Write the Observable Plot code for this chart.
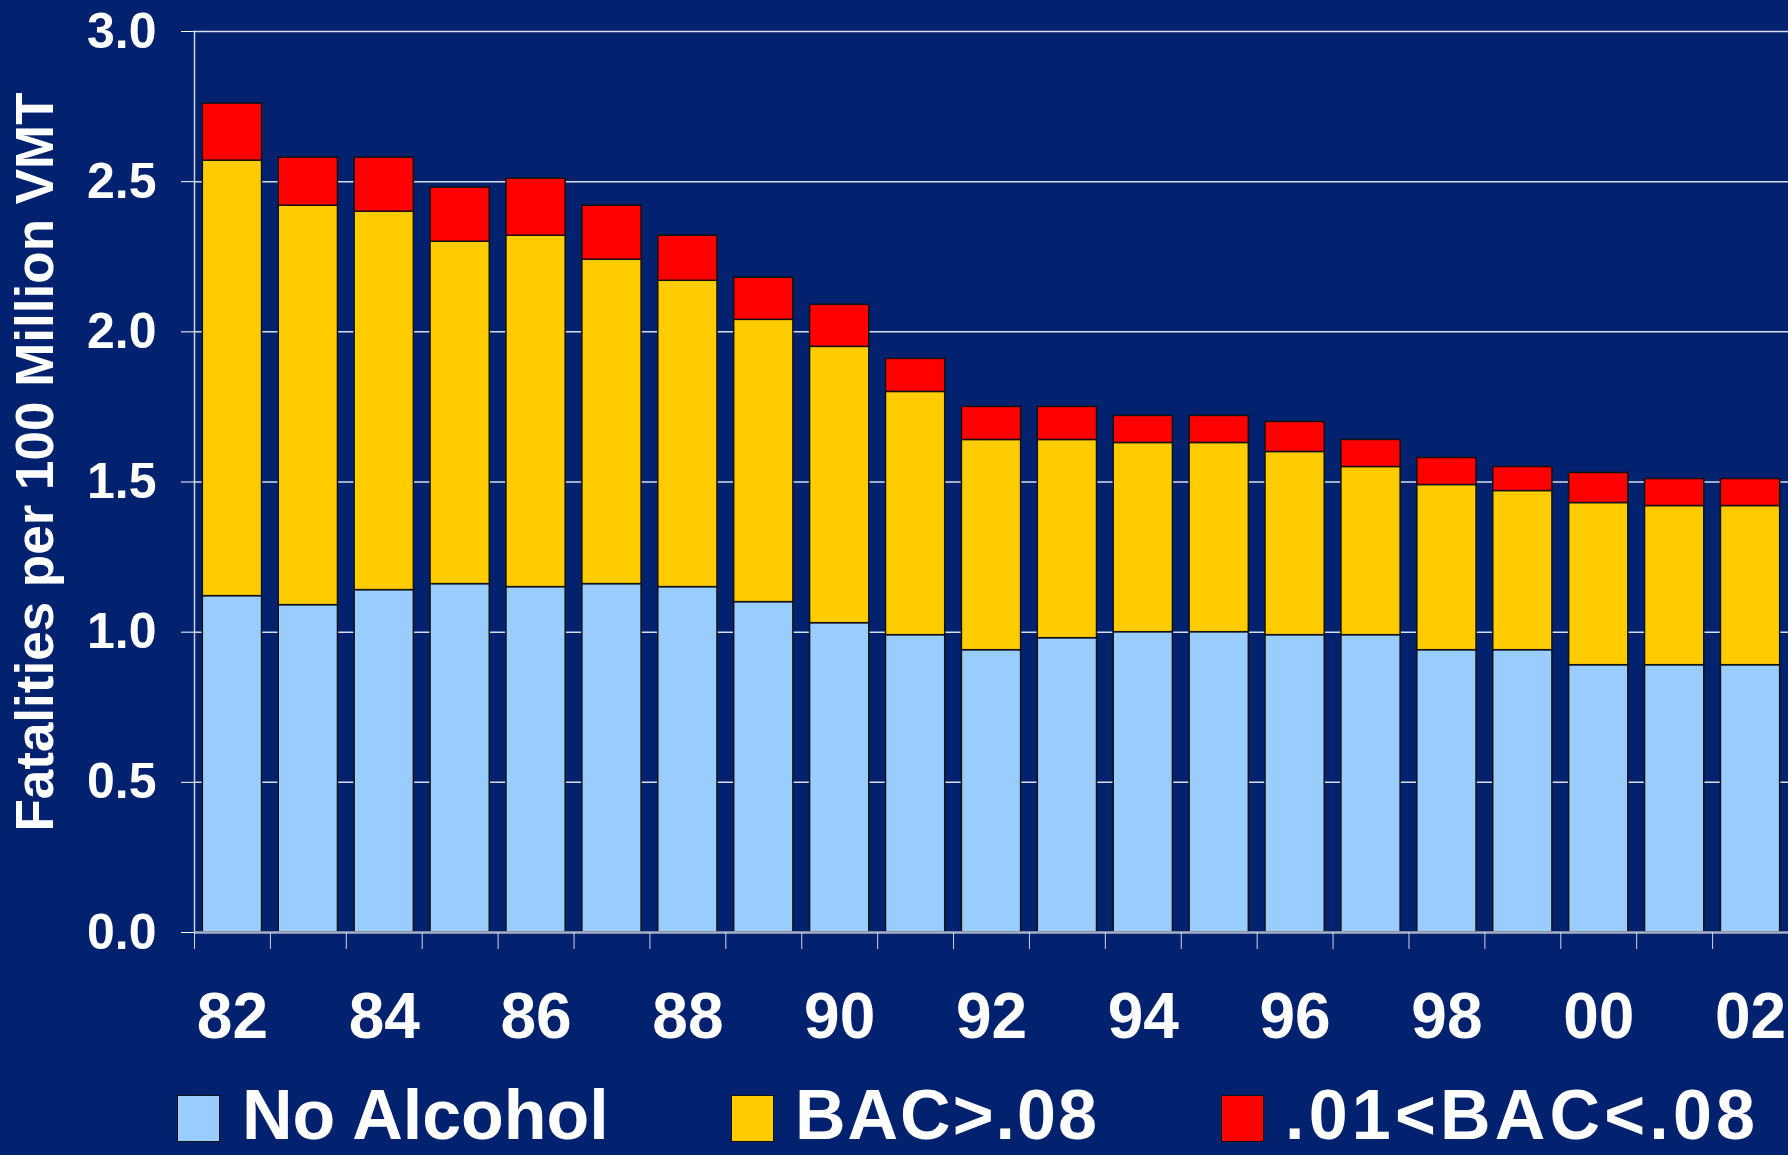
<!DOCTYPE html>
<html><head><meta charset="utf-8">
<script src="https://cdn.jsdelivr.net/npm/d3@7"></script>
<script src="https://cdn.jsdelivr.net/npm/@observablehq/plot@0.6"></script>
<style>
html,body{margin:0;padding:0;background:#02226F;}
#wrap{position:relative;width:1788px;height:1155px;overflow:hidden;background:#02226F;font-family:"Liberation Sans",Arial,sans-serif;}
#chart{position:absolute;left:0;top:0;}
#legend{position:absolute;left:0;top:1060px;width:1788px;height:95px;}
.sw{position:absolute;top:35px;width:43px;height:47px;box-sizing:border-box;border:1.5px solid #111;}
.lt{position:absolute;top:23px;font-size:70px;font-weight:bold;color:white;line-height:64px;white-space:nowrap;}
</style></head>
<body><div id="wrap"><div id="chart"></div><div id="legend"></div></div>
<script>
const years = ["82","83","84","85","86","87","88","89","90","91","92","93","94","95","96","97","98","99","00","01","02"];
const labelYears = ["82","84","86","88","90","92","94","96","98","00","02"];
const seriesNames = ["No Alcohol","BAC>.08",".01<BAC<.08"];
const seriesColors = ["#99CCFF","#FFCC00","#FF0000"];
const noAlcohol = [1.12,1.09,1.14,1.16,1.15,1.16,1.15,1.10,1.03,0.99,0.94,0.98,1.00,1.00,0.99,0.99,0.94,0.94,0.89,0.89,0.89];
const bacHigh   = [1.45,1.33,1.26,1.14,1.17,1.08,1.02,0.94,0.92,0.81,0.70,0.66,0.63,0.63,0.61,0.56,0.55,0.53,0.54,0.53,0.53];
const bacLow    = [0.19,0.16,0.18,0.18,0.19,0.18,0.15,0.14,0.14,0.11,0.11,0.11,0.09,0.09,0.10,0.09,0.09,0.08,0.10,0.09,0.09];
const yTicks = [0,0.5,1.0,1.5,2.0,2.5,3.0];
const yTitle = "Fatalities per 100 Million VMT";

const W = 1788, H = 1060, mL = 194, mR = 0, mT = 31, mB = 128;
const step = (W - mL - mR) / years.length;
const font = "'Liberation Sans', Arial, sans-serif";

const table = years.flatMap((yr, i) => [
  {year: yr, series: seriesNames[0], value: noAlcohol[i]},
  {year: yr, series: seriesNames[1], value: bacHigh[i]},
  {year: yr, series: seriesNames[2], value: bacLow[i]}
]);

const chart = Plot.plot({
  width: W, height: H,
  marginLeft: mL, marginRight: mR, marginTop: mT, marginBottom: mB,
  style: {background: "transparent", color: "white", fontFamily: font},
  x: {domain: years, paddingInner: 0.22, paddingOuter: 0.11, round: false, label: null},
  y: {domain: [0, 3], label: null},
  color: {domain: seriesNames, range: seriesColors},
  marks: [
    Plot.gridY(yTicks.slice(1), {stroke: "white", strokeOpacity: 0.85, strokeWidth: 1.5}),
    Plot.frame({anchor: "left", stroke: "#c9cfe0", strokeWidth: 1.5}),
    Plot.barY(table, Plot.stackY({order: seriesNames}, {x: "year", y: "value", fill: "series", stroke: "#111", strokeWidth: 1.5})),
    Plot.ruleY([0], {stroke: "#a9b0c6", strokeWidth: 2.5}),
    Plot.axisY(yTicks, {tickSize: 13, tickPadding: 25, tickFormat: d3.format(".1f"), fontSize: 50, fontWeight: "bold", color: "white", label: null}),
    Plot.axisX(years, {tickSize: 17, tickFormat: () => "", dx: -step / 2, stroke: "#d0d5e4", label: null}),
    Plot.axisX(labelYears, {tickSize: 0, tickPadding: 60, fontSize: 64, fontWeight: "bold", color: "white", label: null}),
    Plot.text([yTitle], {frameAnchor: "left", dx: -158, dy: -20, rotate: -90, textAnchor: "middle", fontSize: 53, fontWeight: "bold", fill: "white"})
  ]
});
document.getElementById("chart").appendChild(chart);

const legend = document.getElementById("legend");
const swLeft = [177, 731, 1221];
const txLeft = [242, 795, 1285];
const spacing = ["0px", "2px", "4.2px"];
seriesNames.forEach((name, i) => {
  const sw = document.createElement("div");
  sw.className = "sw"; sw.style.left = swLeft[i] + "px"; sw.style.background = seriesColors[i];
  legend.appendChild(sw);
  const t = document.createElement("div");
  t.className = "lt"; t.style.left = txLeft[i] + "px"; t.style.letterSpacing = spacing[i]; t.textContent = name;
  legend.appendChild(t);
});
</script>
</body></html>
